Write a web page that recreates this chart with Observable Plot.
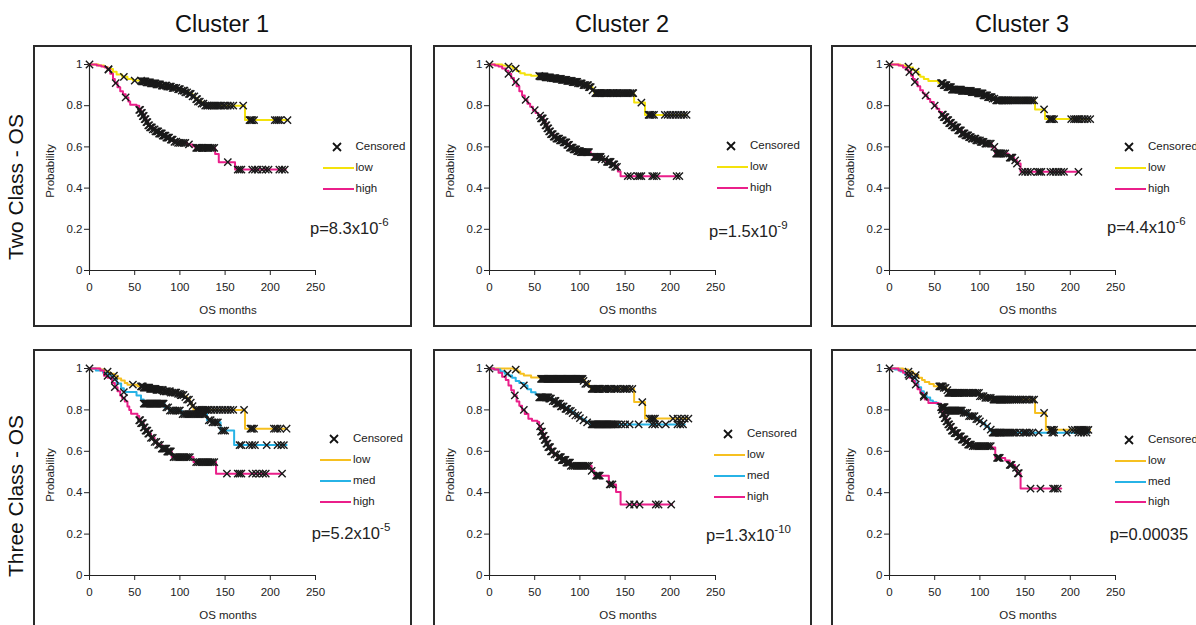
<!DOCTYPE html>
<html><head><meta charset="utf-8">
<script src="https://cdn.jsdelivr.net/npm/d3@7"></script>
<script src="https://cdn.jsdelivr.net/npm/@observablehq/plot@0.6"></script>
<style>
html,body{margin:0;padding:0;background:#fff;}
#root{position:relative;width:1196px;height:625px;overflow:hidden;font-family:"Liberation Sans",Arial,sans-serif;color:#222;}
.box{position:absolute;border:2px solid #2a2a2a;box-sizing:border-box;}
.plot{position:absolute;}
</style></head><body><div id="root"></div>
<script>
// ---------- DATA ----------
const xTicks = [0, 50, 100, 150, 200, 250];
const yTicks = [0, 0.2, 0.4, 0.6, 0.8, 1];
const yTickLabels = ["0", "0.2", "0.4", "0.6", "0.8", "1"];
const clusterTitles = ["Cluster 1", "Cluster 2", "Cluster 3"];
const rowTitles = ["Two Class - OS", "Three Class - OS"];
const twoClassNames = ["low", "high"];
const threeClassNames = ["low", "med", "high"];
const censoredLabel = "Censored";
const xTitle = "OS months";
const yTitle = "Probability";
const pText = ["p=8.3x10", "p=1.5x10", "p=4.4x10", "p=5.2x10", "p=1.3x10", "p=0.00035"];
const pExp = ["-6", "-9", "-6", "-5", "-10", ""];

// Cluster 1, two class
const c1TwoLow = [[0,1],[10,0.995],[16,0.988],[20,0.978],[26,0.965],[30,0.952],[36,0.94],[42,0.93],[48,0.922],[58,0.918],[63,0.913],[68,0.908],[74,0.903],[80,0.898],[86,0.893],[92,0.886],[97,0.88],[102,0.873],[106,0.865],[110,0.857],[114,0.845],[117,0.832],[120,0.82],[124,0.81],[128,0.8],[172,0.73],[220,0.73]];
const c1TwoLowCens = [0,21,38,50,57,58,59,60,61,62,63,64,65,66,67,68,69,70,71,72,73,74,75,76,77,78,80,81,82,84,85,86,88,89,90,92,93,94,96,98,99,100,102,104,105,106,108,110,111,112,114,116,118,119,120,122,124,126,128,130,131,133,135,137,139,141,143,145,148,150,153,156,159,170,177,178,179,180,182,205,207,209,211,219];
const c1TwoHigh = [[0,1],[8,0.995],[13,0.99],[17,0.985],[20,0.975],[23,0.955],[26,0.93],[28,0.91],[31,0.89],[34,0.87],[37,0.855],[40,0.84],[43,0.82],[45,0.805],[52,0.8],[55,0.78],[57,0.765],[59,0.75],[61,0.735],[63,0.72],[65,0.705],[67,0.695],[70,0.685],[73,0.675],[77,0.665],[81,0.655],[85,0.645],[89,0.635],[93,0.625],[97,0.62],[108,0.612],[114,0.603],[117,0.595],[139,0.565],[143,0.526],[161,0.49],[217,0.49]];
const c1TwoHighCens = [21,29,40,55,56,57,58,59,60,61,62,63,64,65,66,67,68,69,70,72,73,74,75,76,77,78,79,80,81,82,83,84,85,86,87,88,90,91,92,94,96,98,100,102,104,106,110,118,119,120,121,122,124,125,126,128,130,131,132,134,136,138,153,164,166,168,180,183,186,191,195,198,210,213,216];

// Cluster 2, two class
const c2TwoLow = [[0,1],[14,0.995],[20,0.99],[26,0.98],[30,0.968],[34,0.958],[39,0.95],[46,0.945],[56,0.942],[62,0.938],[68,0.934],[74,0.93],[80,0.925],[86,0.92],[92,0.915],[98,0.908],[104,0.9],[110,0.89],[114,0.875],[116,0.861],[160,0.815],[172,0.755],[218,0.755]];
const c2TwoLowCens = [0,21,29,55,56,57,58,59,60,61,62,63,64,65,66,67,68,70,71,72,73,74,75,76,77,78,79,80,81,82,83,84,85,86,87,88,89,90,91,92,93,94,95,96,97,98,100,101,102,104,105,106,108,109,110,111,112,114,117,118,119,120,121,122,123,124,126,127,128,129,130,132,134,136,137,138,140,141,142,144,146,148,150,152,154,156,158,159,168,176,177,178,180,182,194,197,200,203,206,209,212,215,218];
const c2TwoHigh = [[0,1],[6,0.995],[10,0.99],[14,0.98],[18,0.97],[21,0.955],[24,0.935],[27,0.915],[30,0.895],[33,0.87],[36,0.85],[39,0.828],[42,0.81],[45,0.795],[48,0.778],[51,0.765],[54,0.752],[57,0.738],[60,0.722],[62,0.705],[64,0.69],[66,0.675],[68,0.662],[71,0.65],[74,0.64],[78,0.632],[82,0.622],[86,0.61],[89,0.596],[93,0.588],[97,0.58],[101,0.575],[112,0.565],[115,0.552],[124,0.54],[129,0.527],[135,0.515],[139,0.503],[142,0.48],[145,0.458],[209,0.458]];
const c2TwoHighCens = [21,29,40,50,56,57,58,59,60,61,62,63,64,65,66,67,68,69,70,71,72,73,74,75,76,77,78,79,80,81,82,83,84,85,86,87,88,89,90,91,92,93,94,95,96,97,98,99,100,101,102,103,104,105,106,107,108,109,110,116,117,118,119,120,121,122,123,124,128,130,131,132,133,134,136,137,138,139,141,153,156,164,166,168,180,182,185,207,210];

// Cluster 3, two class
const c3TwoLow = [[0,1],[12,0.995],[18,0.99],[22,0.985],[26,0.975],[29,0.965],[32,0.95],[34,0.94],[38,0.93],[43,0.92],[54,0.91],[60,0.9],[64,0.89],[69,0.878],[80,0.872],[91,0.866],[98,0.86],[104,0.85],[109,0.842],[114,0.834],[117,0.826],[161,0.782],[172,0.735],[222,0.735]];
const c3TwoLowCens = [0,21,29,57,58,59,60,61,62,63,64,65,66,67,68,69,70,71,72,73,74,75,76,77,78,79,80,81,82,83,84,85,86,87,88,89,90,91,92,93,94,95,96,97,98,99,100,101,102,103,104,105,106,107,108,109,110,111,112,113,114,116,118,119,120,121,122,124,125,126,127,128,129,130,131,132,134,136,138,140,142,144,146,148,150,152,154,156,158,160,171,177,178,179,180,182,201,204,206,208,210,213,216,219,222];
const c3TwoHigh = [[0,1],[10,0.995],[15,0.985],[19,0.975],[21,0.963],[24,0.945],[26,0.93],[28,0.915],[31,0.895],[34,0.875],[37,0.86],[39,0.85],[42,0.833],[45,0.818],[49,0.8],[52,0.785],[55,0.77],[58,0.757],[60,0.745],[63,0.73],[66,0.716],[69,0.705],[72,0.695],[76,0.68],[80,0.665],[84,0.656],[88,0.647],[91,0.64],[96,0.632],[101,0.624],[106,0.616],[113,0.6],[117,0.568],[131,0.562],[133,0.548],[138,0.535],[141,0.519],[145,0.479],[209,0.479]];
const c3TwoHighCens = [22,28,40,50,58,59,60,61,62,63,64,65,66,67,68,69,70,71,72,73,74,75,76,77,78,79,80,81,82,83,84,85,86,87,88,89,90,91,92,94,95,96,97,98,100,101,102,103,104,106,107,108,110,112,116,118,119,120,121,122,123,124,126,128,133,134,135,136,139,141,147,150,153,156,164,166,168,178,181,184,187,190,193,209];

// Cluster 1, three class
const c1ThreeLow = [[0,1],[11,0.995],[17,0.985],[22,0.975],[27,0.965],[31,0.952],[35,0.942],[39,0.93],[42,0.922],[53,0.914],[60,0.908],[67,0.902],[74,0.897],[82,0.89],[90,0.883],[97,0.877],[101,0.872],[105,0.862],[108,0.85],[111,0.835],[113,0.818],[115,0.8],[172,0.709],[218,0.709]];
const c1ThreeLowCens = [0,20,27,48,57,58,59,60,61,62,63,64,65,66,67,68,69,70,71,72,73,74,75,76,77,78,80,81,82,84,85,86,88,89,90,92,94,95,96,98,100,101,102,104,106,108,110,112,114,118,120,122,124,126,128,130,132,135,138,141,144,147,150,153,156,159,171,178,179,180,182,204,206,208,211,218];
const c1ThreeMed = [[0,1],[7,0.99],[15,0.98],[20,0.965],[25,0.948],[30,0.928],[35,0.905],[38,0.886],[52,0.87],[57,0.85],[60,0.83],[83,0.812],[88,0.797],[102,0.78],[130,0.75],[135,0.74],[145,0.7],[160,0.63],[218,0.63]];
const c1ThreeMedCens = [20,28,38,60,61,62,63,64,65,66,67,68,69,70,71,72,73,74,75,76,77,78,79,80,81,82,85,87,89,91,93,95,97,99,100,103,105,107,109,111,113,115,117,119,121,123,125,127,128,132,134,136,138,140,142,146,148,150,166,168,177,180,183,196,208,212,215];
const c1ThreeHigh = [[0,1],[12,0.99],[16,0.965],[20,0.955],[25,0.93],[28,0.91],[31,0.89],[34,0.87],[36,0.857],[39,0.84],[42,0.817],[44,0.8],[46,0.782],[53,0.77],[55,0.75],[57,0.736],[60,0.716],[62,0.7],[65,0.685],[68,0.665],[72,0.645],[75,0.631],[80,0.613],[86,0.599],[91,0.572],[115,0.548],[140,0.492],[213,0.492]];
const c1ThreeHighCens = [28,38,55,56,57,58,59,60,61,62,63,64,65,66,68,70,72,74,76,78,80,81,82,83,84,85,86,87,88,89,90,93,95,97,99,101,103,105,107,109,111,118,120,122,124,126,128,130,132,134,136,138,152,164,166,168,180,184,188,192,195,213];

// Cluster 2, three class
const c2ThreeLow = [[0,1],[27,0.995],[31,0.985],[34,0.975],[38,0.966],[46,0.956],[56,0.95],[104,0.94],[106,0.926],[110,0.915],[112,0.902],[160,0.838],[172,0.758],[220,0.758]];
const c2ThreeLowCens = [0,29,57,58,59,60,61,62,63,64,65,66,67,68,69,70,71,72,73,74,75,76,77,78,79,80,81,82,83,84,85,86,87,88,89,90,91,92,93,94,95,96,97,98,99,100,101,102,103,104,106,108,113,114,115,116,117,118,119,120,121,122,125,126,127,128,130,132,134,135,138,140,142,145,148,150,152,155,158,169,177,179,181,183,203,208,212,216,220];
const c2ThreeMed = [[0,1],[5,0.995],[12,0.985],[17,0.975],[21,0.966],[25,0.955],[29,0.94],[33,0.93],[38,0.918],[42,0.9],[46,0.885],[51,0.875],[55,0.861],[66,0.855],[70,0.843],[74,0.83],[79,0.817],[84,0.805],[88,0.795],[92,0.785],[95,0.773],[99,0.76],[103,0.75],[107,0.74],[112,0.73],[216,0.73]];
const c2ThreeMedCens = [20,38,55,56,57,58,59,60,61,62,63,64,65,66,67,68,70,72,73,74,75,76,78,79,80,82,84,85,86,88,90,92,95,98,100,104,108,113,114,115,116,117,118,119,120,121,122,123,124,125,126,127,128,129,130,131,132,133,134,135,136,137,138,140,142,146,150,155,165,180,183,187,195,208,211,214];
const c2ThreeHigh = [[0,1],[5,0.995],[10,0.98],[14,0.96],[18,0.945],[21,0.918],[24,0.895],[27,0.87],[30,0.84],[33,0.82],[36,0.8],[39,0.78],[43,0.757],[47,0.748],[53,0.741],[55,0.72],[57,0.695],[59,0.675],[61,0.655],[63,0.637],[65,0.62],[68,0.6],[71,0.585],[75,0.572],[80,0.558],[85,0.545],[90,0.53],[113,0.505],[116,0.482],[132,0.44],[140,0.403],[145,0.343],[202,0.343]];
const c2ThreeHighCens = [28,38,56,57,58,59,60,61,62,63,64,65,66,67,68,69,70,72,74,76,77,78,79,80,81,82,83,84,85,86,87,88,89,90,92,94,96,98,100,102,104,106,108,110,113,118,119,120,121,122,133,134,136,155,160,166,184,187,201];

// Cluster 3, three class
const c3ThreeLow = [[0,1],[15,0.995],[21,0.985],[26,0.975],[29,0.968],[32,0.955],[36,0.945],[39,0.935],[44,0.925],[49,0.914],[60,0.906],[63,0.895],[65,0.882],[100,0.866],[106,0.858],[113,0.85],[161,0.785],[173,0.704],[222,0.704]];
const c3ThreeLowCens = [0,21,29,55,56,57,58,59,60,62,64,65,66,67,68,69,70,71,72,73,74,75,76,77,78,80,82,83,85,87,88,90,92,93,95,97,99,100,102,104,106,108,110,112,115,116,117,118,119,120,121,122,123,124,125,126,127,128,129,130,131,132,134,136,138,140,141,143,145,147,150,152,155,158,160,171,178,179,180,182,202,205,208,210,212,214,216,218,220];
const c3ThreeMed = [[0,1],[6,0.995],[12,0.985],[17,0.971],[21,0.963],[25,0.955],[29,0.925],[32,0.91],[35,0.89],[38,0.87],[41,0.86],[45,0.845],[48,0.837],[52,0.83],[57,0.813],[62,0.797],[82,0.786],[87,0.77],[95,0.755],[99,0.745],[102,0.735],[106,0.72],[110,0.705],[113,0.69],[220,0.69]];
const c3ThreeMedCens = [22,28,38,57,58,59,60,61,62,63,64,65,66,67,68,69,70,71,72,73,74,75,76,77,78,79,80,82,84,86,88,90,92,94,96,98,100,104,108,112,114,115,116,117,118,119,120,121,122,123,124,126,128,130,132,134,136,138,140,144,148,150,152,155,158,165,180,182,196,209,212,215,218];
const c3ThreeHigh = [[0,1],[10,0.99],[15,0.98],[19,0.97],[22,0.955],[25,0.94],[28,0.922],[31,0.9],[34,0.882],[37,0.863],[39,0.85],[43,0.833],[54,0.83],[57,0.8],[59,0.78],[61,0.76],[63,0.745],[65,0.73],[67,0.718],[69,0.7],[72,0.688],[76,0.672],[80,0.657],[84,0.645],[87,0.632],[91,0.625],[113,0.618],[117,0.568],[128,0.556],[133,0.534],[139,0.52],[141,0.494],[145,0.42],[190,0.42]];
const c3ThreeHighCens = [21,29,38,58,59,60,61,62,63,64,65,66,67,68,69,70,71,72,73,74,75,76,77,78,79,80,81,82,83,84,85,86,87,88,89,90,92,94,96,98,100,102,104,106,108,110,112,119,120,121,122,133,134,135,140,142,143,156,167,181,183,186];

// ---------- STYLE / LAYOUT ----------
const twoColors = ["#f4e20c", "#ea1f8a"];
const threeColors = ["#f6c020", "#27b3e6", "#ea1f8a"];
const panels = [
  [[c1TwoLow, c1TwoLowCens], [c1TwoHigh, c1TwoHighCens]],
  [[c2TwoLow, c2TwoLowCens], [c2TwoHigh, c2TwoHighCens]],
  [[c3TwoLow, c3TwoLowCens], [c3TwoHigh, c3TwoHighCens]],
  [[c1ThreeLow, c1ThreeLowCens], [c1ThreeMed, c1ThreeMedCens], [c1ThreeHigh, c1ThreeHighCens]],
  [[c2ThreeLow, c2ThreeLowCens], [c2ThreeMed, c2ThreeMedCens], [c2ThreeHigh, c2ThreeHighCens]],
  [[c3ThreeLow, c3ThreeLowCens], [c3ThreeMed, c3ThreeMedCens], [c3ThreeHigh, c3ThreeHighCens]]
];
const colFrameX = [89, 489, 889];
const rowFrameY = [[64, 270], [368, 575]];
const colBoxX = [33, 433, 831];
const rowBoxY = [45, 349];
const boxW = 379, boxH = 282;
const legendPos = [[322.5,147.3],[717,146],[1115,147.3],[320,439.3],[714,434.3],[1115,440]];
const pPos = [[310,234],[709,236.7],[1107,233.3],[311.7,539],[706,541],[1109.7,540]];
const ML = 40, MR = 12, MT = 8, MB = 32;
const FONT = '"Liberation Sans", Arial, sans-serif';

const root = document.getElementById("root");
function el(tag, css, text) {
  const e = document.createElement(tag);
  e.style.cssText = css;
  if (text != null) e.textContent = text;
  root.appendChild(e);
  return e;
}
function survAt(steps, t) {
  let s = steps[0][1];
  for (const [tt, ss] of steps) { if (tt <= t) s = ss; else break; }
  return s;
}

// column titles and row titles
clusterTitles.forEach((t, c) => {
  el("div", `position:absolute;left:${colFrameX[c] + 133}px;top:25px;transform:translate(-50%,-50%);font-size:23.5px;line-height:1;white-space:nowrap;color:#111;`, t);
});
rowTitles.forEach((t, r) => {
  const cy = r === 0 ? 187 : 496;
  el("div", `position:absolute;left:15px;top:${cy}px;transform:translate(-50%,-50%) rotate(-90deg);font-size:21px;line-height:1;white-space:nowrap;color:#111;`, t);
});

panels.forEach((series, idx) => {
  const r = Math.floor(idx / 3), c = idx % 3;
  const names = r === 0 ? twoClassNames : threeClassNames;
  const colors = r === 0 ? twoColors : threeColors;
  el("div", `left:${colBoxX[c]}px;top:${rowBoxY[r]}px;width:${boxW}px;height:${boxH}px;`).className = "box";

  const [y1, y0] = rowFrameY[r];
  const fh = y0 - y1;
  const x0 = colFrameX[c];
  const lineData = [], censData = [];
  series.forEach(([steps, cens], k) => {
    steps.forEach(([t, s]) => lineData.push({t, s, g: names[k]}));
    cens.forEach(t => censData.push({t, s: survAt(steps, t), g: names[k]}));
  });
  const plot = Plot.plot({
    width: ML + 226 + MR,
    height: MT + fh + MB,
    marginLeft: ML, marginRight: MR, marginTop: MT, marginBottom: MB,
    style: {fontFamily: FONT, fontSize: "11.5px", color: "#222", background: "transparent", overflow: "visible"},
    x: {domain: [0, 250], ticks: xTicks, tickSize: 5, tickPadding: 7, tickFormat: d => String(d), label: null},
    y: {domain: [0, 1], ticks: yTicks, tickSize: 5, tickPadding: 2, tickFormat: d => yTickLabels[yTicks.indexOf(d)], label: null},
    color: {domain: names, range: colors},
    marks: [
      Plot.ruleX([0], {stroke: "#222", strokeWidth: 1.2}),
      Plot.ruleY([0], {stroke: "#222", strokeWidth: 1.2}),
      Plot.line(lineData, {x: "t", y: "s", z: "g", stroke: "g", strokeWidth: 2, curve: "step-after"}),
      Plot.dot(censData, {x: "t", y: "s", symbol: "times", r: 3.4, stroke: "#1a1a1a", strokeWidth: 1.4})
    ]
  });
  plot.classList.add("plot");
  plot.style.position = "absolute";
  plot.style.left = (x0 - ML) + "px";
  plot.style.top = (y1 - MT) + "px";
  root.appendChild(plot);

  // axis titles
  el("div", `position:absolute;left:${x0 - 38}px;top:${y1 + 107}px;transform:translate(-50%,-50%) rotate(-90deg);font-size:11.5px;line-height:1;white-space:nowrap;`, yTitle);
  el("div", `position:absolute;left:${x0 + 139}px;top:${y0 + 41}px;transform:translate(-50%,-50%);font-size:11.5px;line-height:1;white-space:nowrap;`, xTitle);

  // legend
  const [lx, cy] = legendPos[idx];
  const step = 20.8;
  const svgNS = "http://www.w3.org/2000/svg";
  const xs = document.createElementNS(svgNS, "svg");
  xs.setAttribute("width", 10); xs.setAttribute("height", 10);
  xs.style.cssText = `position:absolute;left:${lx + 14 - 5}px;top:${cy - 5}px;overflow:visible;`;
  xs.innerHTML = `<path d="M1,1L9,9M9,1L1,9" stroke="#111" stroke-width="1.8" fill="none"/>`;
  root.appendChild(xs);
  el("div", `position:absolute;left:${lx + 33}px;top:${cy}px;transform:translateY(-50%);font-size:11.5px;line-height:1;white-space:nowrap;`, censoredLabel);
  names.forEach((n, k) => {
    const yy = cy + step * (k + 1);
    el("div", `position:absolute;left:${lx}px;top:${yy - 1}px;width:31px;height:2px;background:${colors[k]};`);
    el("div", `position:absolute;left:${lx + 33}px;top:${yy}px;transform:translateY(-50%);font-size:11.5px;line-height:1;white-space:nowrap;`, n);
  });

  // p-value
  const [px, pb] = pPos[idx];
  const pd = el("div", `position:absolute;left:${px}px;top:${pb - 14}px;font-size:16.5px;line-height:16.5px;white-space:nowrap;color:#222;`);
  pd.appendChild(document.createTextNode(pText[idx]));
  if (pExp[idx]) {
    const sp = document.createElement("span");
    sp.textContent = pExp[idx];
    sp.style.cssText = "font-size:11.5px;position:relative;top:-8px;";
    pd.appendChild(sp);
  }
});
</script></body></html>
